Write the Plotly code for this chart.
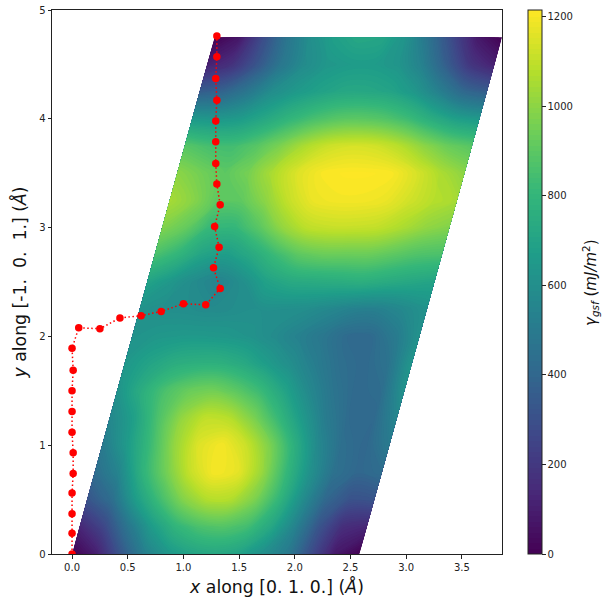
import plotly.graph_objects as go

# energy table: rows along y, columns along the [0 1 0] lattice direction
u_values = [0.0, 0.215, 0.43, 0.645, 0.86, 1.075, 1.29, 1.505, 1.72, 1.935, 2.15, 2.365, 2.58]
y_values = [0.0, 0.25, 0.5, 0.75, 1.0, 1.25, 1.5, 1.75, 2.0, 2.25, 2.5, 2.75, 3.0, 3.25, 3.5, 3.75, 4.0, 4.25, 4.5, 4.75]
gamma = [
    [0, 100, 320, 520, 640, 700, 720, 690, 600, 500, 280, 80, 0],
    [130, 260, 470, 660, 790, 860, 880, 840, 720, 540, 320, 160, 130],
    [320, 430, 660, 830, 980, 1070, 1070, 970, 800, 590, 400, 310, 320],
    [430, 550, 780, 950, 1110, 1200, 1170, 1020, 810, 610, 450, 400, 430],
    [500, 650, 820, 1010, 1150, 1200, 1120, 970, 770, 570, 440, 400, 500],
    [560, 680, 860, 1010, 1100, 1080, 970, 820, 660, 510, 420, 410, 560],
    [620, 750, 860, 930, 950, 900, 820, 700, 570, 470, 410, 430, 620],
    [640, 700, 750, 770, 770, 730, 660, 590, 510, 440, 410, 460, 640],
    [620, 640, 650, 650, 640, 620, 580, 530, 480, 420, 420, 500, 620],
    [620, 600, 590, 580, 590, 600, 600, 590, 560, 530, 530, 570, 620],
    [700, 640, 580, 540, 600, 690, 730, 740, 750, 760, 740, 720, 700],
    [860, 790, 700, 670, 730, 820, 900, 930, 930, 930, 900, 870, 860],
    [980, 920, 810, 800, 890, 1010, 1090, 1110, 1110, 1100, 1060, 1010, 980],
    [1050, 990, 900, 910, 1000, 1110, 1180, 1195, 1195, 1180, 1130, 1080, 1050],
    [1000, 950, 900, 960, 1060, 1150, 1200, 1215, 1215, 1205, 1140, 1060, 1000],
    [890, 850, 840, 890, 970, 1060, 1120, 1140, 1130, 1080, 1000, 930, 890],
    [650, 640, 660, 720, 790, 850, 890, 900, 880, 830, 750, 680, 650],
    [360, 390, 480, 590, 650, 690, 720, 720, 700, 640, 530, 410, 360],
    [110, 170, 310, 470, 580, 640, 660, 660, 630, 530, 360, 190, 110],
    [0, 70, 280, 470, 600, 680, 720, 710, 620, 450, 260, 80, 0],
]
shear = 1.28 / 4.75  # x shift per unit y of the cell's second lattice vector

path_x = [0.0, 0.0, 0.0, 0.0, 0.01, 0.01, 0.0, 0.0, 0.0, 0.01, 0.0, 0.06, 0.25, 0.43, 0.62, 0.8, 1.0, 1.2, 1.33,
          1.27, 1.32, 1.28, 1.33, 1.3, 1.29, 1.29, 1.29, 1.3, 1.29, 1.3, 1.3]
path_y = [0.0, 0.19, 0.37, 0.56, 0.74, 0.93, 1.12, 1.31, 1.5, 1.69, 1.89, 2.08, 2.07, 2.17, 2.19, 2.23, 2.3, 2.29, 2.44,
          2.63, 2.82, 3.01, 3.21, 3.4, 3.59, 3.79, 3.98, 4.17, 4.37, 4.57, 4.76]

x_ticks = [0.0, 0.5, 1.0, 1.5, 2.0, 2.5, 3.0, 3.5]
y_ticks = [0, 1, 2, 3, 4, 5]
cbar_ticks = [0, 200, 400, 600, 800, 1000, 1200]

carpet_x = [[u + shear * y for u in u_values] for y in y_values]
carpet_y = [[y for _ in u_values] for y in y_values]
hidden = dict(showgrid=False, showline=False, showticklabels="none", startline=False, endline=False,
              minorgridcount=0, smoothing=0)

FONT = "DejaVu Sans"
fig = go.Figure()
fig.add_trace(go.Carpet(carpet="cell", a=u_values, b=y_values, x=carpet_x, y=carpet_y,
                        aaxis=hidden, baxis=hidden))
fig.add_trace(go.Contourcarpet(
    carpet="cell", a=u_values, b=y_values, z=gamma,
    colorscale="Viridis", zmin=0, zmax=1215, autocontour=False,
    contours=dict(start=0, end=1215, size=12, coloring="fill", showlines=False),
    line=dict(width=0),
    colorbar=dict(
        x=1.058, xanchor="left", y=0, yanchor="bottom", len=1, lenmode="fraction",
        thickness=14, thicknessmode="pixels", xpad=0, ypad=0,
        outlinewidth=1, outlinecolor="#222", tickvals=cbar_ticks, ticks="outside", ticklen=3.5,
        tickwidth=0.8, tickcolor="#222", tickfont=dict(family=FONT, size=10, color="#222"),
    ),
))
fig.add_trace(go.Scatter(x=path_x, y=path_y, mode="lines+markers",
                         line=dict(color="#ff0000", width=1.5, dash="1.5px,2.5px"),
                         marker=dict(color="#ff0000", size=7.5), showlegend=False, cliponaxis=True))

axis_common = dict(showgrid=False, zeroline=False, showline=True, mirror=True, linecolor="#222", linewidth=1,
                   ticks="outside", ticklen=3.5, tickwidth=0.8, tickcolor="#222", automargin=False,
                   tickfont=dict(family=FONT, size=10, color="#222"))
fig.update_layout(
    width=608, height=608, autosize=False, showlegend=False,
    margin=dict(l=52, r=106, t=10, b=54),
    paper_bgcolor="white", plot_bgcolor="white",
    xaxis=dict(range=[-0.18, 3.86], tickvals=x_ticks, ticktext=[f"{v:.1f}" for v in x_ticks],
               title=dict(text="<i>x</i> along [0. 1. 0.] (<i>Å</i>)", font=dict(family=FONT, size=17.3, color="#111"), standoff=9),
               **axis_common),
    yaxis=dict(range=[0, 5], tickvals=y_ticks, ticktext=[str(v) for v in y_ticks],
               title=dict(text="<i>y</i> along [-1.\u00a0\u00a00.\u00a0\u00a01.] (<i>Å</i>)", font=dict(family=FONT, size=17.3, color="#111"), standoff=8),
               **axis_common),
    annotations=[dict(text="<i>γ</i><sub><i>gsf</i></sub> (<i>mJ/m</i><sup>2</sup>)", xref="paper", yref="paper",
                      x=(590 - 52) / 450, y=(554 - 283) / 544, xanchor="center", yanchor="middle",
                      textangle=-90, showarrow=False, font=dict(family=FONT, size=15, color="#111"))],
)
fig.write_html("out.html", config=dict(displayModeBar=False), post_script="document.body.style.margin='0';")
